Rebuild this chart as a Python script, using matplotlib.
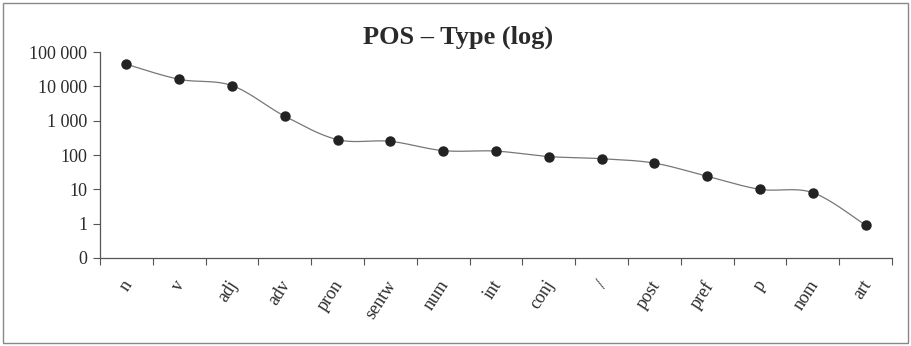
import numpy as np
import matplotlib
matplotlib.use("Agg")
import matplotlib.pyplot as plt
import matplotlib.transforms as mtransforms
from matplotlib.patches import Rectangle

categories = ["n", "v", "adj", "adv", "pron", "sentw", "num", "int", "conj", "/",
              "post", "pref", "p", "nom", "art"]
values = [44000, 16000, 10500, 1350, 280, 250, 134, 130, 90, 78, 58, 24, 10, 8, 0.9]
ytick_vals = [0.1, 1, 10, 100, 1000, 10000, 100000]
ytick_labels = ["0", "1", "10", "100", "1 000", "10 000", "100 000"]
title = "POS – Type (log)"

plt.rcParams['font.family'] = ['Liberation Serif', 'DejaVu Serif']
txt = "#2a2a2a"

fig = plt.figure(figsize=(9.12, 3.46), dpi=100)
ax = fig.add_axes([100/912, 1-258/346, (892-100)/912, (258-52)/346])

x = np.arange(len(categories)) + 0.5
ly = np.log10(values)

# Catmull-Rom smoothing in log space
xs, ys = [], []
P = list(zip(x, ly))
P = [P[0]] + P + [P[-1]]
for i in range(1, len(P) - 2):
    p0, p1, p2, p3 = [np.array(p) for p in P[i-1:i+3]]
    t = np.linspace(0, 1, 30)[:, None]
    c = 0.5 * ((2*p1) + (-p0 + p2)*t + (2*p0 - 5*p1 + 4*p2 - p3)*t**2 + (-p0 + 3*p1 - 3*p2 + p3)*t**3)
    xs.extend(c[:, 0]); ys.extend(c[:, 1])
ax.plot(xs, 10**np.array(ys), color="#777777", lw=0.9, zorder=2)
ax.plot(x, values, "o", color="#222222", ms=6.5, zorder=3)

ax.set_yscale("log")
ax.set_ylim(0.1, 100000)
ax.set_xlim(0, len(categories))
ax.set_yticks(ytick_vals)
ax.set_yticklabels(ytick_labels, fontsize=13, color=txt)
ax.yaxis.set_minor_locator(matplotlib.ticker.NullLocator())
ax.set_xticks(np.arange(len(categories) + 1))
ax.set_xticklabels([])
ax.set_xticks(x, minor=True)
ax.set_xticklabels(categories, minor=True, rotation=57, ha="right", rotation_mode="anchor",
                   fontsize=13, color=txt)
ax.tick_params(axis="x", which="minor", length=0, pad=14)
ax.tick_params(axis="x", which="major", length=5, direction="out", color="#555555")
ax.tick_params(axis="y", length=5, direction="out", color="#555555", pad=4)
off = mtransforms.ScaledTranslation(-5/100, 0, fig.dpi_scale_trans)
for lab in ax.get_xticklabels(minor=True):
    lab.set_transform(lab.get_transform() + off)
for s in ["top", "right"]:
    ax.spines[s].set_visible(False)
for s in ["left", "bottom"]:
    ax.spines[s].set_color("#555555")
    ax.spines[s].set_linewidth(0.9)

fig.text(458/912, 1-37/346, title, ha="center", va="center", fontsize=19,
         fontweight="bold", color=txt)

fig.patches.append(Rectangle((3/912, 3/346), 905/912, 340/346, transform=fig.transFigure,
                             fill=False, edgecolor="#888888", lw=1.0))

fig.savefig("out.png", dpi=100)
